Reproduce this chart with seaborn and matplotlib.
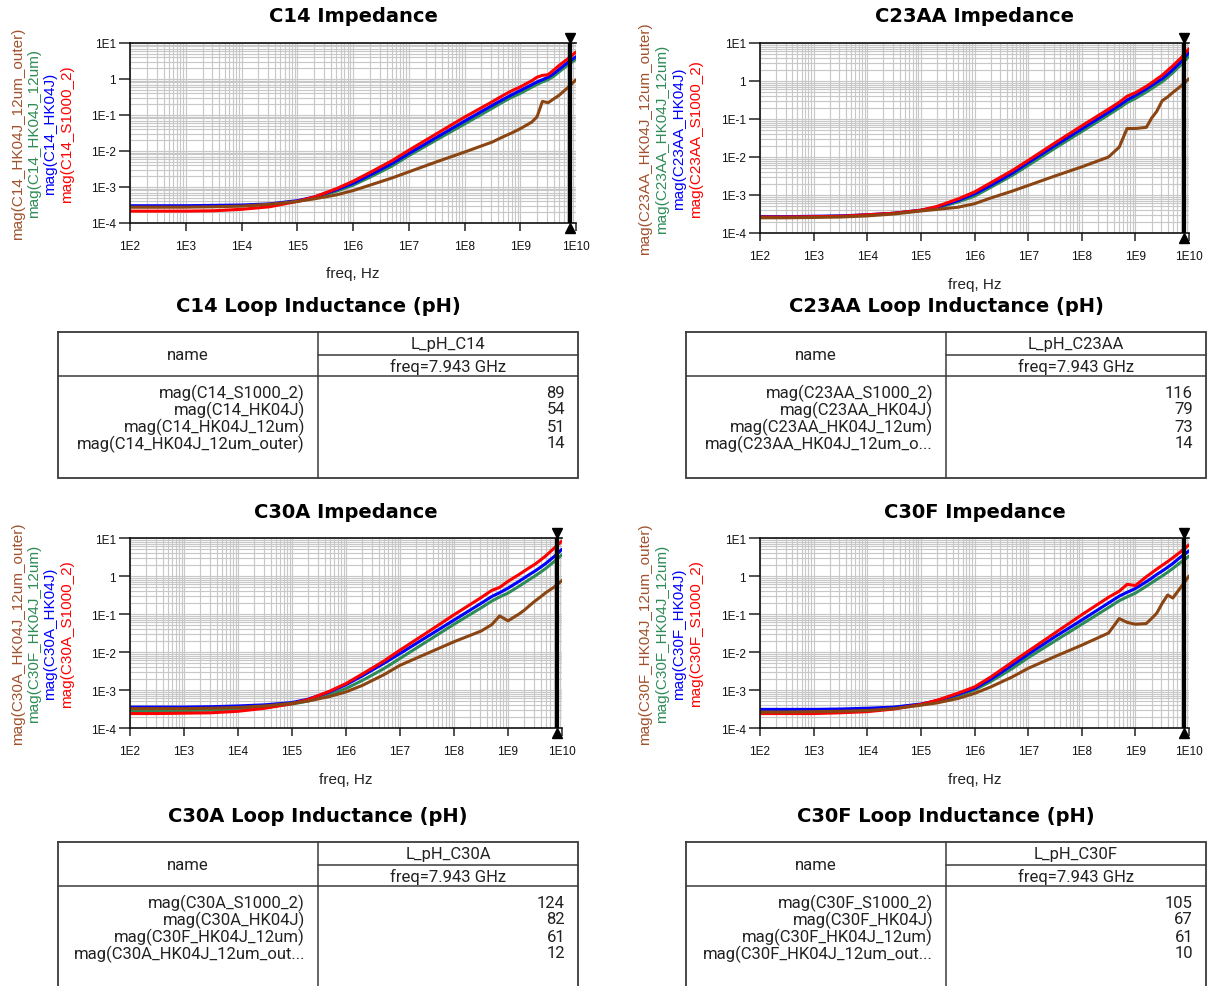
import numpy as np
import pandas as pd
import matplotlib
matplotlib.use("Agg")
import matplotlib.pyplot as plt
import matplotlib.transforms as mtransforms
import seaborn as sns
from matplotlib.ticker import FixedLocator, FixedFormatter, LogLocator, NullFormatter

# ---------------- data ----------------
freq_hz = [1e2, 3.16e2, 1e3, 3.16e3, 1e4, 3.16e4, 1e5, 2e5, 5e5, 1e6, 2e6, 5e6,
           1e7, 3.16e7, 1e8, 3.16e8, 5e8, 7e8, 1e9, 1.6e9, 2e9, 2.5e9, 3.16e9,
           4e9, 5e9, 7e9, 1e10]

# log10 of |Z| for every trace
c14_s1000_log = [-3.67, -3.67, -3.67, -3.66, -3.62, -3.55, -3.40, -3.28, -3.05, -2.84, -2.60, -2.27,
                 -1.98, -1.52, -1.06, -0.63, -0.45, -0.33, -0.22, -0.05, 0.05, 0.10, 0.12, 0.25, 0.38, 0.55, 0.75]
c14_hk04j_log = [-3.52, -3.52, -3.52, -3.51, -3.50, -3.47, -3.38, -3.28, -3.08, -2.90, -2.67, -2.35,
                 -2.07, -1.62, -1.17, -0.73, -0.56, -0.44, -0.32, -0.16, -0.08, -0.02, 0.05, 0.15, 0.27, 0.45, 0.62]
c14_12um_log = [-3.55, -3.55, -3.54, -3.53, -3.52, -3.48, -3.40, -3.30, -3.12, -2.95, -2.73, -2.42,
                -2.13, -1.69, -1.25, -0.81, -0.63, -0.51, -0.40, -0.23, -0.15, -0.08, -0.02, 0.08, 0.20, 0.38, 0.55]
c14_outer_log = [-3.56, -3.56, -3.56, -3.55, -3.53, -3.48, -3.40, -3.33, -3.22, -3.10, -2.95, -2.75,
                 -2.58, -2.30, -2.03, -1.75, -1.60, -1.50, -1.38, -1.20, -1.05, -0.62, -0.66, -0.55, -0.45, -0.25, -0.02]

c23aa_s1000_log = [-3.58, -3.58, -3.57, -3.56, -3.52, -3.48, -3.40, -3.30, -3.10, -2.92, -2.68, -2.36,
                   -2.09, -1.63, -1.18, -0.74, -0.56, -0.40, -0.31, -0.14, -0.05, 0.05, 0.15, 0.28, 0.40, 0.60, 0.85]
c23aa_hk04j_log = [-3.57, -3.57, -3.56, -3.55, -3.52, -3.48, -3.40, -3.32, -3.14, -2.97, -2.75, -2.43,
                   -2.15, -1.70, -1.26, -0.82, -0.64, -0.50, -0.38, -0.21, -0.12, -0.03, 0.06, 0.18, 0.30, 0.50, 0.75]
c23aa_12um_log = [-3.58, -3.58, -3.57, -3.56, -3.53, -3.48, -3.41, -3.34, -3.18, -3.03, -2.80, -2.49,
                  -2.22, -1.77, -1.33, -0.89, -0.71, -0.57, -0.46, -0.29, -0.20, -0.11, -0.02, 0.10, 0.22, 0.42, 0.65]
c23aa_outer_log = [-3.60, -3.60, -3.59, -3.58, -3.55, -3.50, -3.42, -3.38, -3.32, -3.23, -3.08, -2.90,
                   -2.75, -2.50, -2.26, -2.00, -1.74, -1.25, -1.25, -1.22, -0.98, -0.80, -0.52, -0.42, -0.30, -0.14, 0.06]

c30a_s1000_log = [-3.62, -3.62, -3.61, -3.60, -3.56, -3.48, -3.36, -3.25, -3.03, -2.83, -2.58, -2.24,
                  -1.95, -1.49, -1.02, -0.57, -0.38, -0.30, -0.14, 0.04, 0.13, 0.22, 0.31, 0.42, 0.53, 0.72, 0.92]
c30a_hk04j_log = [-3.45, -3.45, -3.45, -3.44, -3.42, -3.39, -3.33, -3.24, -3.05, -2.86, -2.63, -2.30,
                  -2.04, -1.60, -1.16, -0.72, -0.54, -0.44, -0.32, -0.14, -0.05, 0.04, 0.13, 0.23, 0.33, 0.50, 0.70]
c30a_12um_log = [-3.55, -3.55, -3.54, -3.53, -3.50, -3.45, -3.37, -3.29, -3.13, -2.96, -2.75, -2.44,
                 -2.17, -1.72, -1.27, -0.84, -0.66, -0.55, -0.45, -0.27, -0.18, -0.09, 0.00, 0.10, 0.20, 0.37, 0.56]
c30a_outer_log = [-3.49, -3.49, -3.49, -3.48, -3.46, -3.42, -3.35, -3.29, -3.17, -3.05, -2.88, -2.60,
                  -2.35, -2.04, -1.73, -1.45, -1.28, -1.05, -1.18, -1.00, -0.90, -0.78, -0.66, -0.55, -0.44, -0.30, -0.12]

c30f_s1000_log = [-3.62, -3.62, -3.62, -3.60, -3.57, -3.50, -3.38, -3.27, -3.08, -2.92, -2.66, -2.27,
                  -1.98, -1.50, -1.02, -0.56, -0.40, -0.22, -0.25, -0.02, 0.08, 0.18, 0.28, 0.38, 0.48, 0.64, 0.82]
c30f_hk04j_log = [-3.51, -3.51, -3.51, -3.50, -3.48, -3.45, -3.37, -3.28, -3.11, -2.96, -2.72, -2.35,
                  -2.06, -1.60, -1.16, -0.71, -0.53, -0.43, -0.33, -0.15, -0.06, 0.04, 0.13, 0.23, 0.33, 0.50, 0.66]
c30f_12um_log = [-3.56, -3.56, -3.55, -3.54, -3.50, -3.46, -3.38, -3.30, -3.15, -3.00, -2.78, -2.44,
                 -2.15, -1.71, -1.27, -0.83, -0.65, -0.55, -0.45, -0.27, -0.18, -0.09, 0.00, 0.10, 0.20, 0.36, 0.52]
c30f_outer_log = [-3.58, -3.58, -3.57, -3.56, -3.54, -3.49, -3.40, -3.34, -3.22, -3.09, -2.92, -2.66,
                  -2.43, -2.12, -1.82, -1.50, -1.12, -1.22, -1.27, -1.25, -1.12, -0.98, -0.72, -0.50, -0.58, -0.30, 0.00]

marker_freq_hz = 7.943e9

x_tick_vals = [1e2, 1e3, 1e4, 1e5, 1e6, 1e7, 1e8, 1e9, 1e10]
x_tick_labels = ["1E2", "1E3", "1E4", "1E5", "1E6", "1E7", "1E8", "1E9", "1E10"]
y_tick_vals = [1e-4, 1e-3, 1e-2, 1e-1, 1, 1e1]
y_tick_labels = ["1E-4", "1E-3", "1E-2", "1E-1", "1", "1E1"]

c14_trace_names = ["mag(C14_HK04J_12um_outer)", "mag(C14_HK04J_12um)", "mag(C14_HK04J)", "mag(C14_S1000_2)"]
c23aa_trace_names = ["mag(C23AA_HK04J_12um_outer)", "mag(C23AA_HK04J_12um)", "mag(C23AA_HK04J)", "mag(C23AA_S1000_2)"]
c30a_trace_names = ["mag(C30A_HK04J_12um_outer)", "mag(C30F_HK04J_12um)", "mag(C30A_HK04J)", "mag(C30A_S1000_2)"]
c30f_trace_names = ["mag(C30F_HK04J_12um_outer)", "mag(C30F_HK04J_12um)", "mag(C30F_HK04J)", "mag(C30F_S1000_2)"]

c14_table_names = ["mag(C14_S1000_2)", "mag(C14_HK04J)", "mag(C14_HK04J_12um)", "mag(C14_HK04J_12um_outer)"]
c14_table_vals = [89, 54, 51, 14]
c23aa_table_names = ["mag(C23AA_S1000_2)", "mag(C23AA_HK04J)", "mag(C23AA_HK04J_12um)", "mag(C23AA_HK04J_12um_o..."]
c23aa_table_vals = [116, 79, 73, 14]
c30a_table_names = ["mag(C30A_S1000_2)", "mag(C30A_HK04J)", "mag(C30F_HK04J_12um)", "mag(C30A_HK04J_12um_out..."]
c30a_table_vals = [124, 82, 61, 12]
c30f_table_names = ["mag(C30F_S1000_2)", "mag(C30F_HK04J)", "mag(C30F_HK04J_12um)", "mag(C30F_HK04J_12um_out..."]
c30f_table_vals = [105, 67, 61, 10]

# ---------------- style ----------------
W, H = 1214, 987
sns.set_theme(style="white")
plt.rcParams['font.family'] = ['Liberation Sans', 'DejaVu Sans']

line_colors = ["#8B4513", "#2E8B57", "#0000FF", "#FF0000"]   # outer, 12um, HK04J, S1000
text_colors = ["#A0522D", "#2E8B57", "#0000FF", "#FF0000"]
draw_order = [1, 2, 3, 0]  # green, blue, red, brown on top

fig = plt.figure(figsize=(W / 100, H / 100), dpi=100)


def rect(l, t, r, b):
    return [l / W, 1 - b / H, (r - l) / W, (b - t) / H]


def fxy(x, y):
    return x / W, 1 - y / H


panels = [
    dict(title="C14 Impedance", box=(130, 44, 576, 224), names=c14_trace_names,
         logs=[c14_outer_log, c14_12um_log, c14_hk04j_log, c14_s1000_log],
         lab_x=(18, 34, 50, 67), xlab_y=274, title_y=16),
    dict(title="C23AA Impedance", box=(760, 44, 1189, 234), names=c23aa_trace_names,
         logs=[c23aa_outer_log, c23aa_12um_log, c23aa_hk04j_log, c23aa_s1000_log],
         lab_x=(645, 662, 679, 696), xlab_y=285, title_y=16),
    dict(title="C30A Impedance", box=(130, 539, 562, 729), names=c30a_trace_names,
         logs=[c30a_outer_log, c30a_12um_log, c30a_hk04j_log, c30a_s1000_log],
         lab_x=(18, 34, 50, 67), xlab_y=780, title_y=512),
    dict(title="C30F Impedance", box=(760, 539, 1189, 729), names=c30f_trace_names,
         logs=[c30f_outer_log, c30f_12um_log, c30f_hk04j_log, c30f_s1000_log],
         lab_x=(645, 662, 679, 696), xlab_y=780, title_y=512),
]

MS = 7.5
for p in panels:
    l, t, r, b = p["box"]
    ax = fig.add_axes(rect(l, t, r, b))
    ax.set_xscale("log")
    ax.set_yscale("log")
    rows = []
    for i in draw_order:
        for f, v in zip(freq_hz, p["logs"][i]):
            rows.append({"freq": f, "Z": 10 ** v, "trace": p["names"][i]})
    df = pd.DataFrame(rows)
    pal = {p["names"][i]: line_colors[i] for i in range(4)}
    sns.lineplot(data=df, x="freq", y="Z", hue="trace",
                 hue_order=[p["names"][i] for i in draw_order], palette=pal,
                 linewidth=2.2, legend=False, ax=ax, estimator=None, sort=False)
    ax.set_xlim(1e2, 1e10)
    ax.set_ylim(1e-4, 1e1)
    ax.xaxis.set_major_locator(FixedLocator(x_tick_vals))
    ax.xaxis.set_major_formatter(FixedFormatter(x_tick_labels))
    ax.yaxis.set_major_locator(FixedLocator(y_tick_vals))
    ax.yaxis.set_major_formatter(FixedFormatter(y_tick_labels))
    ax.xaxis.set_minor_locator(LogLocator(base=10, subs=np.arange(2, 10), numticks=100))
    ax.yaxis.set_minor_locator(LogLocator(base=10, subs=np.arange(2, 10), numticks=100))
    ax.xaxis.set_minor_formatter(NullFormatter())
    ax.yaxis.set_minor_formatter(NullFormatter())
    ax.grid(True, which="both", color="#c8c8c8", linewidth=0.85)
    ax.set_axisbelow(True)
    ax.tick_params(which="major", direction="out", width=1.1, color="#222222",
                   labelsize=8.5, labelcolor="#111111")
    ax.tick_params(axis="x", which="major", length=6, pad=6)
    ax.tick_params(axis="y", which="major", length=8, pad=2)
    ax.tick_params(which="minor", length=0)
    ax.tick_params(bottom=True, left=True)
    for s in ["left", "bottom", "top"]:
        ax.spines[s].set_color("#111111")
        ax.spines[s].set_linewidth(1.2)
    ax.spines["right"].set_visible(False)
    ax.set_xlabel("")
    ax.set_ylabel("")
    # marker at the table frequency
    ax.axvline(marker_freq_hz, color="black", linewidth=3.0, zorder=5)
    up = mtransforms.offset_copy(ax.transData, fig=fig, y=MS / 2, units="points")
    dn = mtransforms.offset_copy(ax.transData, fig=fig, y=-MS / 2, units="points")
    ax.plot([marker_freq_hz], [1e1], marker="v", markersize=MS, color="black",
            clip_on=False, zorder=6, transform=up)
    ax.plot([marker_freq_hz], [1e-4], marker="^", markersize=MS, color="black",
            clip_on=False, zorder=6, transform=dn)

    cx = (l + r) / 2
    cy = (t + b) / 2
    fig.text(*fxy(cx, p["title_y"]), p["title"], ha="center", va="center",
             fontsize=14, fontweight="bold", family="DejaVu Sans", color="black")
    fig.text(*fxy(cx, p["xlab_y"]), "freq, Hz", ha="center", va="center",
             fontsize=11, color="#222222")
    for i in range(4):
        fig.text(*fxy(p["lab_x"][i], cy), p["names"][i], rotation=90,
                 ha="center", va="center", fontsize=11, color=text_colors[i])

# ---------------- tables ----------------
tax = fig.add_axes([0, 0, 1, 1])
tax.set_xlim(0, W)
tax.set_ylim(H, 0)
tax.axis("off")

tables = [
    dict(title="C14 Loop Inductance (pH)", col="L_pH_C14", names=c14_table_names,
         vals=c14_table_vals, x0=58, x1=578, xd=318, y0=333),
    dict(title="C23AA Loop Inductance (pH)", col="L_pH_C23AA", names=c23aa_table_names,
         vals=c23aa_table_vals, x0=686, x1=1206, xd=946, y0=333),
    dict(title="C30A Loop Inductance (pH)", col="L_pH_C30A", names=c30a_table_names,
         vals=c30a_table_vals, x0=58, x1=578, xd=318, y0=843),
    dict(title="C30F Loop Inductance (pH)", col="L_pH_C30F", names=c30f_table_names,
         vals=c30f_table_vals, x0=686, x1=1206, xd=946, y0=843),
]

lc = "#3a3a3a"
tfam = ["Roboto", "DejaVu Sans"]
for tb in tables:
    x0, x1, xd, y0 = tb["x0"], tb["x1"], tb["xd"], tb["y0"]
    y_end = y0 + 146
    tax.plot([x0, x1, x1, x0, x0], [y0, y0, y_end, y_end, y0], color=lc, lw=1.3,
             solid_joinstyle="miter")
    tax.plot([xd, xd], [y0, y_end], color=lc, lw=1.1)
    tax.plot([xd, x1], [y0 + 23, y0 + 23], color=lc, lw=1.1)
    tax.plot([x0, x1], [y0 + 44, y0 + 44], color=lc, lw=1.1)
    tax.text((x0 + x1) / 2, y0 - 26, tb["title"], ha="center", va="center",
             fontsize=14, fontweight="bold", family="DejaVu Sans", color="black")
    tax.text((x0 + xd) / 2, y0 + 22, "name", ha="center", va="center",
             fontsize=12, family=tfam, color="#222222")
    tax.text((xd + x1) / 2, y0 + 11.5, tb["col"], ha="center", va="center",
             fontsize=12, family=tfam, color="#222222")
    tax.text((xd + x1) / 2, y0 + 33.5, "freq=7.943 GHz", ha="center", va="center",
             fontsize=12, family=tfam, color="#222222")
    for k, (nm, v) in enumerate(zip(tb["names"], tb["vals"])):
        yy = y0 + 60 + 17 * k
        tax.text(xd - 13, yy, nm, ha="right", va="center", fontsize=12,
                 family=tfam, color="#222222")
        tax.text(x1 - 13, yy, str(v), ha="right", va="center", fontsize=12,
                 family=tfam, color="#222222")

fig.savefig("out.png", dpi=100)
